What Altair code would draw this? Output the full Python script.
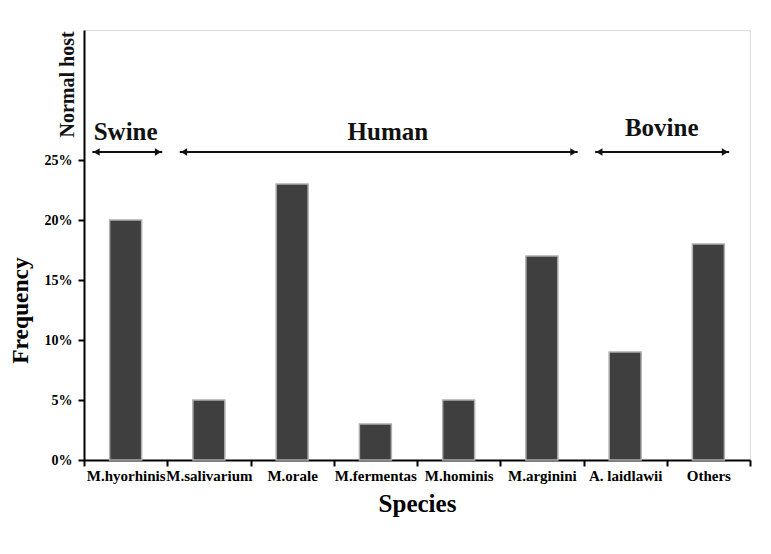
import altair as alt
import pandas as pd

species = ["M.hyorhinis", "M.salivarium", "M.orale", "M.fermentas", "M.hominis",
           "M.arginini", "A. laidlawii", "Others"]
frequency = [20, 5, 23, 3, 5, 17, 9, 18]

groups = ["Swine", "Human", "Bovine"]
arrow_start = [0.10, 1.15, 6.14]
arrow_end = [0.94, 5.93, 7.75]
label_x = [0.5, 3.65, 6.94]
label_y = [27.35, 27.35, 27.7]
arrow_y = 25.67

y_ticks = [0, 5, 10, 15, 20, 25]
Y_MAX = 430 / 12

FONT = "Liberation Serif"

bars_df = pd.DataFrame({"species": species, "frequency": frequency})
arrows_df = pd.DataFrame({"group": groups, "x1": arrow_start, "x2": arrow_end,
                          "lx": label_x, "ly": label_y, "ay": [arrow_y] * 3})
heads_df = pd.DataFrame({
    "x": [a + 0.05 for a in arrow_start] + [b - 0.05 for b in arrow_end],
    "y": [arrow_y] * 6,
    "dir": ["left"] * 3 + ["right"] * 3,
})
host_df = pd.DataFrame({"text": ["Normal host"], "x": [-0.19], "y": [31.3]})

yscale = alt.Scale(domain=[0, Y_MAX], nice=False, zero=True)
xq = alt.Scale(domain=[0, 8], nice=False, zero=False)

bars = alt.Chart(bars_df).mark_bar(
    size=32, color="#3f3f3f", stroke="#b0b0b0", strokeWidth=1.5
).encode(
    x=alt.X("species:N", sort=species,
            scale=alt.Scale(paddingInner=0, paddingOuter=0),
            axis=alt.Axis(title="Species", labelAngle=0, tickBand="extent",
                          labelFontSize=15, labelFont=FONT, labelFontWeight="bold",
                          labelColor="black", labelPadding=2,
                          titleFont=FONT, titleFontSize=25, titleFontWeight="bold",
                          titleColor="black", titlePadding=8,
                          domainColor="black", domainWidth=2,
                          tickColor="black", tickWidth=2, tickSize=6)),
    y=alt.Y("frequency:Q", scale=yscale,
            axis=alt.Axis(title="Frequency", values=y_ticks,
                          labelExpr="datum.value + '%'",
                          labelFontSize=14, labelFont=FONT, labelFontWeight="bold",
                          labelColor="black", labelPadding=6,
                          titleFont=FONT, titleFontSize=23.5, titleFontWeight="bold",
                          titleColor="black", titlePadding=12, titleY=280,
                          domainColor="black", domainWidth=2,
                          tickColor="black", tickWidth=2, tickSize=6, grid=False)),
)

rules = alt.Chart(arrows_df).mark_rule(color="#111111", strokeWidth=2).encode(
    x=alt.X("x1:Q", scale=xq, axis=None),
    x2="x2:Q",
    y=alt.Y("ay:Q", scale=yscale),
)

heads = alt.Chart(heads_df).mark_point(filled=True, size=55, color="#111111", opacity=1).encode(
    x=alt.X("x:Q", scale=xq, axis=None),
    y=alt.Y("y:Q", scale=yscale),
    shape=alt.Shape("dir:N", scale=alt.Scale(domain=["left", "right"],
                                             range=["triangle-left", "triangle-right"]),
                    legend=None),
)

labels = alt.Chart(arrows_df).mark_text(
    font=FONT, fontSize=25, fontWeight="bold", color="#111111", baseline="middle"
).encode(
    x=alt.X("lx:Q", scale=xq, axis=None),
    y=alt.Y("ly:Q", scale=yscale),
    text="group:N",
)

host = alt.Chart(host_df).mark_text(
    font=FONT, fontSize=20, fontWeight="bold", color="#111111", angle=270,
    baseline="middle", align="center"
).encode(
    x=alt.X("x:Q", scale=xq, axis=None),
    y=alt.Y("y:Q", scale=yscale),
    text="text:N",
)

chart = alt.layer(bars, rules, heads, labels, host).resolve_scale(
    x="independent"
).properties(
    width=666, height=430, padding={"left": 0, "top": 22, "right": 5, "bottom": 5}
).configure_view(stroke=None).configure(background="white")

chart.save("out.html", embed_options={"renderer": "svg", "actions": False})
